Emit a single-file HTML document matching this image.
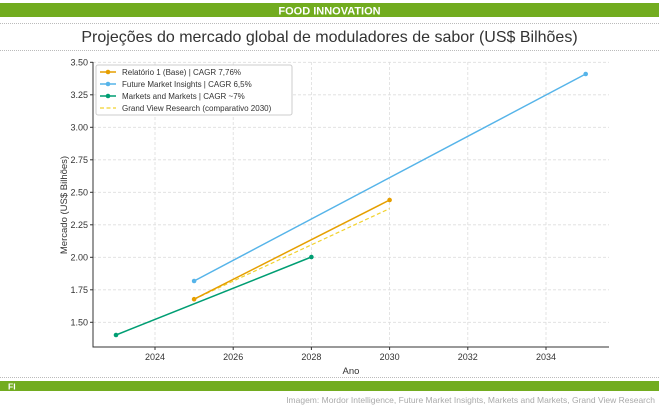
<!DOCTYPE html>
<html><head><meta charset="utf-8"><style>
body{margin:0;width:659px;height:408px;background:#fff;overflow:hidden;font-family:"Liberation Sans",sans-serif}
</style></head><body>
<svg width="659" height="408" xmlns="http://www.w3.org/2000/svg" font-family="Liberation Sans, DejaVu Sans, sans-serif">
<rect x="0" y="3" width="659" height="14" fill="#72ac1f"/>
<text x="329.5" y="14.5" text-anchor="middle" font-size="11" fill="#fff" font-weight="bold">FOOD INNOVATION</text>
<line x1="0" y1="23.5" x2="659" y2="23.5" stroke="#bbb" stroke-dasharray="1,1"/>
<text x="329.5" y="42" text-anchor="middle" font-size="16" fill="#333">Projeções do mercado global de moduladores de sabor (US$ Bilhões)</text>
<line x1="0" y1="50.5" x2="659" y2="50.5" stroke="#bbb" stroke-dasharray="1,1"/>
<g stroke="#ddd" stroke-dasharray="3,2" stroke-width="0.8">
<line x1="93" x2="609" y1="62.3" y2="62.3"/><line x1="93" x2="609" y1="94.8" y2="94.8"/><line x1="93" x2="609" y1="127.3" y2="127.3"/><line x1="93" x2="609" y1="159.8" y2="159.8"/><line x1="93" x2="609" y1="192.3" y2="192.3"/><line x1="93" x2="609" y1="224.8" y2="224.8"/><line x1="93" x2="609" y1="257.3" y2="257.3"/><line x1="93" x2="609" y1="289.8" y2="289.8"/><line x1="93" x2="609" y1="322.3" y2="322.3"/>
<line y1="62" y2="347" x1="155" x2="155"/><line y1="62" y2="347" x1="233.2" x2="233.2"/><line y1="62" y2="347" x1="311.4" x2="311.4"/><line y1="62" y2="347" x1="389.6" x2="389.6"/><line y1="62" y2="347" x1="467.8" x2="467.8"/><line y1="62" y2="347" x1="546" x2="546"/>
</g>
<path d="M93 62V347H609" fill="none" stroke="#333" stroke-width="1"/>
<g font-size="9" fill="#333" text-anchor="end">
<text x="88" y="65.5">3.50</text><text x="88" y="98">3.25</text><text x="88" y="130.5">3.00</text><text x="88" y="163">2.75</text><text x="88" y="195.5">2.50</text><text x="88" y="228">2.25</text><text x="88" y="260.5">2.00</text><text x="88" y="293">1.75</text><text x="88" y="325.5">1.50</text>
</g>
<g stroke="#333"><line x1="90" x2="93" y1="62.3" y2="62.3"/><line x1="90" x2="93" y1="94.8" y2="94.8"/><line x1="90" x2="93" y1="127.3" y2="127.3"/><line x1="90" x2="93" y1="159.8" y2="159.8"/><line x1="90" x2="93" y1="192.3" y2="192.3"/><line x1="90" x2="93" y1="224.8" y2="224.8"/><line x1="90" x2="93" y1="257.3" y2="257.3"/><line x1="90" x2="93" y1="289.8" y2="289.8"/><line x1="90" x2="93" y1="322.3" y2="322.3"/>
<line y1="347" y2="350" x1="155" x2="155"/><line y1="347" y2="350" x1="233.2" x2="233.2"/><line y1="347" y2="350" x1="311.4" x2="311.4"/><line y1="347" y2="350" x1="389.6" x2="389.6"/><line y1="347" y2="350" x1="467.8" x2="467.8"/><line y1="347" y2="350" x1="546" x2="546"/></g>
<g font-size="9" fill="#333" text-anchor="middle">
<text x="155" y="360">2024</text><text x="233.2" y="360">2026</text><text x="311.4" y="360">2028</text><text x="389.6" y="360">2030</text><text x="467.8" y="360">2032</text><text x="546" y="360">2034</text>
<text x="351" y="374" font-size="9.5">Ano</text>
<text transform="translate(67,205) rotate(-90)" font-size="9.5">Mercado (US$ Bilhões)</text>
</g>
<line x1="194.1" y1="299.2" x2="389.6" y2="208.6" stroke="#f2d22e" stroke-width="1.2" stroke-dasharray="4,2.5"/>
<line x1="194.1" y1="299.2" x2="389.6" y2="200" stroke="#e69f00" stroke-width="1.5"/>
<circle cx="194.1" cy="299.2" r="2.3" fill="#e69f00"/><circle cx="389.6" cy="200" r="2.3" fill="#e69f00"/>
<line x1="194.1" y1="281" x2="585.7" y2="74" stroke="#56b4e9" stroke-width="1.5"/>
<circle cx="194.1" cy="281" r="2.3" fill="#56b4e9"/><circle cx="585.7" cy="74" r="2.3" fill="#56b4e9"/>
<line x1="116" y1="335" x2="311.4" y2="257" stroke="#009e73" stroke-width="1.5"/>
<circle cx="116" cy="335" r="2.3" fill="#009e73"/><circle cx="311.4" cy="257" r="2.3" fill="#009e73"/>
<rect x="96" y="65" width="196" height="50" fill="#fff" stroke="#ccc" rx="2"/>
<g font-size="8" fill="#333">
<line x1="100" x2="116" y1="72" y2="72" stroke="#e69f00" stroke-width="1.5"/><circle cx="108" cy="72" r="2.3" fill="#e69f00"/><text x="122" y="75">Relatório 1 (Base) | CAGR 7,76%</text>
<line x1="100" x2="116" y1="84" y2="84" stroke="#56b4e9" stroke-width="1.5"/><circle cx="108" cy="84" r="2.3" fill="#56b4e9"/><text x="122" y="87">Future Market Insights | CAGR 6,5%</text>
<line x1="100" x2="116" y1="96" y2="96" stroke="#009e73" stroke-width="1.5"/><circle cx="108" cy="96" r="2.3" fill="#009e73"/><text x="122" y="99">Markets and Markets | CAGR ~7%</text>
<line x1="100" x2="116" y1="108" y2="108" stroke="#f2d22e" stroke-width="1.2" stroke-dasharray="4,2.5"/><text x="122" y="111">Grand View Research (comparativo 2030)</text>
</g>
<line x1="0" y1="377.5" x2="659" y2="377.5" stroke="#bbb" stroke-dasharray="1,1"/>
<rect x="0" y="381" width="659" height="10" fill="#72ac1f"/>
<text x="8" y="389.5" font-size="8.5" fill="#fff" font-weight="bold">FI</text>
<text x="655" y="403" text-anchor="end" font-size="8.5" fill="#aaa">Imagem: Mordor Intelligence, Future Market Insights, Markets and Markets, Grand View Research</text>
</svg>
</body></html>
